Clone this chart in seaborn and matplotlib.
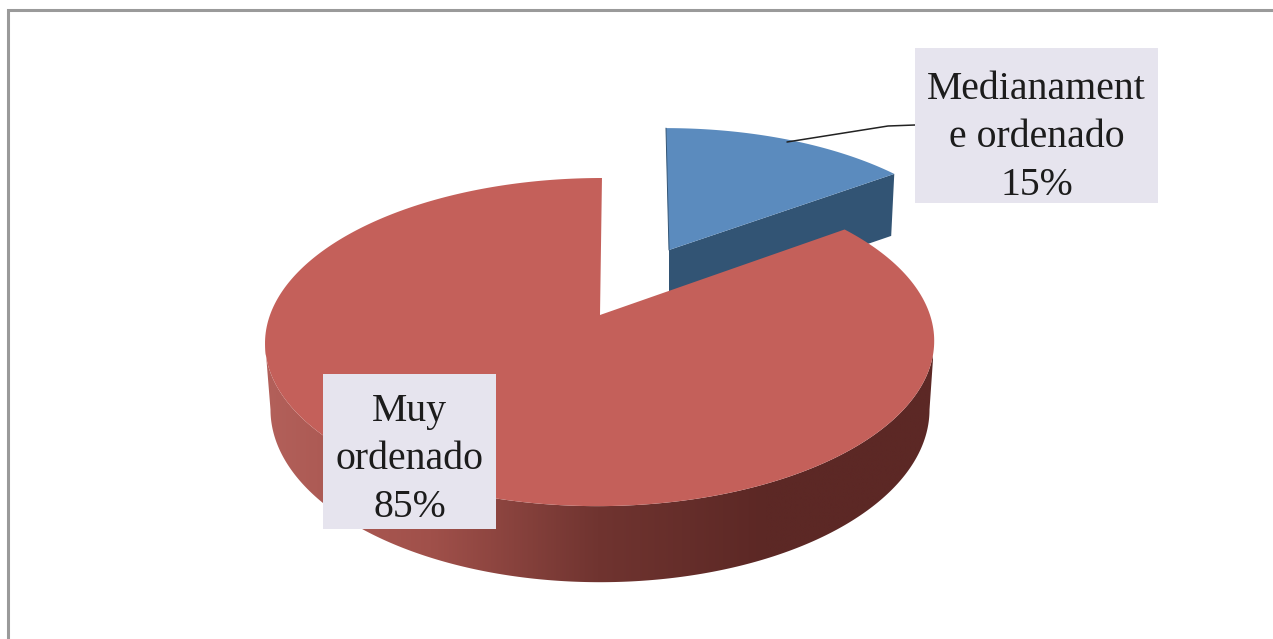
# 3D style pie chart (exploded slice) with seaborn palettes
import numpy as np
import matplotlib
matplotlib.use("Agg")
import matplotlib.pyplot as plt
from matplotlib.patches import Polygon, Rectangle
import seaborn as sns

# data
labels = ["Medianament\ne ordenado", "Muy\nordenado"]
shares = [15, 85]

top_colors = ["#5B8BBE", "#C4605A"]
blue_side = "#325474"
wall_stops = ["#B3605A", "#A0504A", "#703430", "#5C2825", "#5C2825"]
box_color = "#E6E4EE"
frame_color = "#9A9A9A"

sns.set_theme(style="white")
plt.rcParams["font.family"] = ["Liberation Serif", "DejaVu Serif"]

fig = plt.figure(figsize=(12.73, 6.39), dpi=100)
ax = fig.add_axes([0, 0, 1, 1])
ax.axis("off")

P = 0.165  # perspective of the disc


def rim(theta, cx, cy, a, b, skew):
    u, v = np.sin(theta), np.cos(theta)
    s = 1 + P * v
    return cx + (b * u + skew * v) / s, cy - a * v / s


angles = np.cumsum([0] + shares) / sum(shares) * 2 * np.pi

# blue slice, pulled out of the pie
t = np.linspace(angles[0], angles[1], 80)
bx, by = rim(t, 669, 250, 142, 308, -3.5)
lx, ly = rim(t, 669, 312, 142, 302, -1)
ax.add_patch(Polygon([(669, 250), (bx[-1], by[-1]), (lx[-1], ly[-1]), (669, 312)],
                     color=blue_side, lw=0, zorder=1))
ax.add_patch(Polygon(np.r_[[[669, 250]], np.c_[bx, by]], color=top_colors[0], lw=0, zorder=2))
ax.plot([669, bx[0]], [250, by[0]], color=blue_side, lw=0.7, zorder=2)

# red wall, gradient left to right clipped to the wall outline
# runs between the widest points of the disc so the sides follow the silhouette
widest = np.arccos(-P)
t = np.linspace(widest, 2 * np.pi - widest, 260)
ux, uy = rim(t, 600, 315, 159.6, 330, 2.3)
dx, dy = rim(t, 600, 381, 168, 325, 0)
wall = Polygon(np.r_[np.c_[ux, uy], np.c_[dx, dy][::-1]], facecolor="none", lw=0,
               transform=ax.transData)
ax.add_patch(wall)
wall_cmap = sns.blend_palette(wall_stops, as_cmap=True)
grad = ax.imshow(np.linspace(0, 1, 400)[None, :], cmap=wall_cmap, extent=(263, 933, 600, 300),
                 aspect="auto", zorder=3, interpolation="bilinear")
grad.set_clip_path(wall)

# red top
t = np.linspace(angles[1], angles[2], 300)
rx, ry = rim(t, 600, 315, 159.6, 330, 2.3)
ax.add_patch(Polygon(np.r_[[[600, 315]], np.c_[rx, ry]], color=top_colors[1], lw=0, zorder=4))

# leader line
ax.plot([787, 888, 915], [142, 126, 125], color="#222222", lw=1.1, zorder=5)

# label boxes
boxes = [(915, 48, 243, 155), (323, 374, 173, 155)]
text_y = [137.5, 459.5]
for lab, val, (x0, y0, w, h), ty in zip(labels, shares, boxes, text_y):
    ax.add_patch(Rectangle((x0, y0), w, h, color=box_color, lw=0, zorder=6))
    ax.text(x0 + w / 2, ty, f"{lab}\n{val}%", ha="center", va="center",
            multialignment="center", fontsize=28.6, linespacing=1.39,
            color="#1c1c1c", zorder=7)

# chart frame, cropped at right and bottom
ax.plot([8, 8, 1273], [639, 9.5, 9.5], color=frame_color, lw=2.2, zorder=8,
        solid_joinstyle="miter")

ax.set_xlim(0, 1273)
ax.set_ylim(639, 0)

fig.savefig("out.png", dpi=100)
